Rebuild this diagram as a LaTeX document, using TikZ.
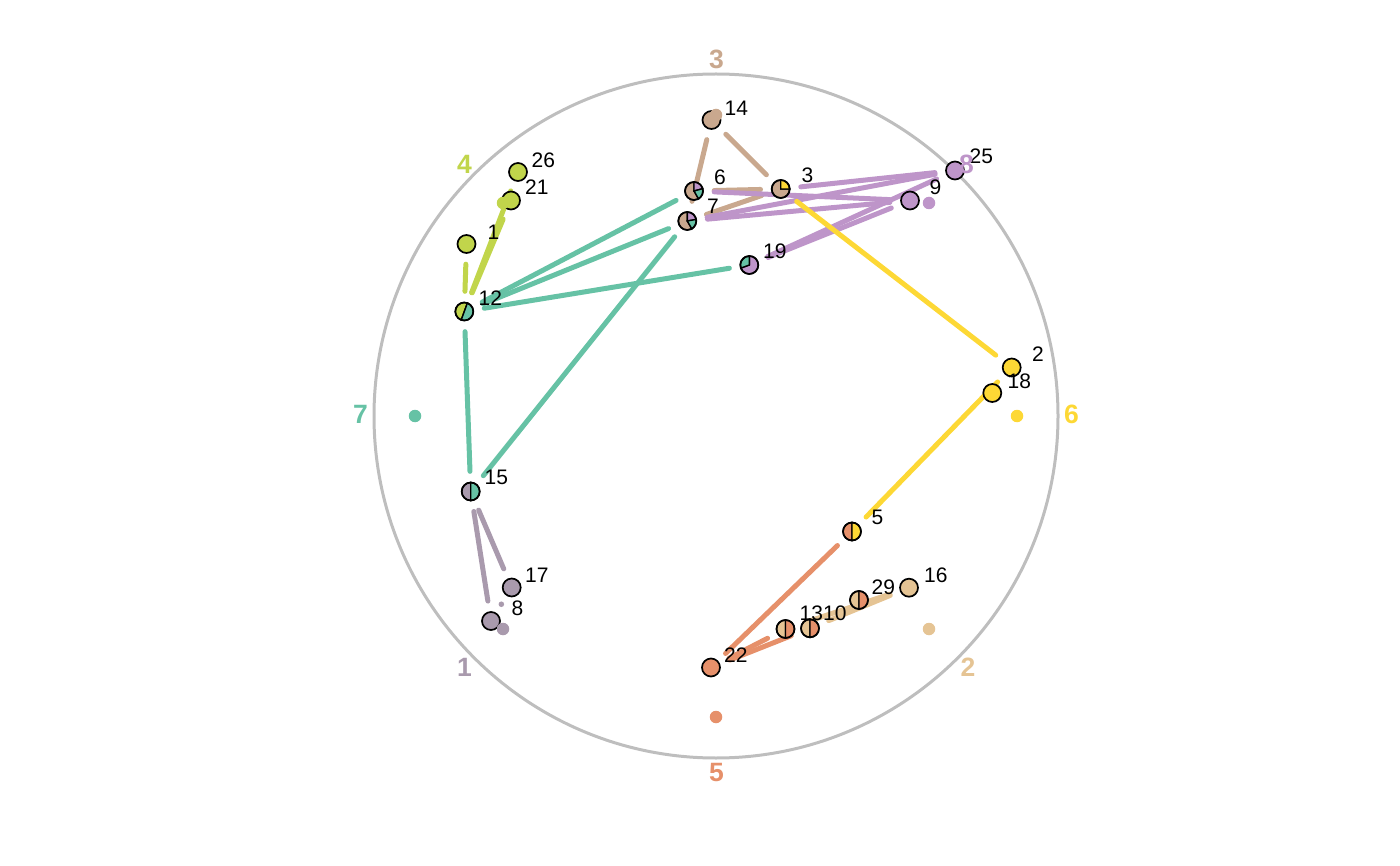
\documentclass[tikz,border=0pt]{standalone}
\usepackage{fontspec}
\setmainfont{Liberation Sans}
\usetikzlibrary{calc}
\definecolor{cTeal}{HTML}{66C2A5}
\definecolor{cOrange}{HTML}{E6906A}
\definecolor{cTan}{HTML}{E5C494}
\definecolor{cYellow}{HTML}{FDD835}
\definecolor{cLime}{HTML}{C1D54B}
\definecolor{cPurple}{HTML}{BE95C9}
\definecolor{cGp}{HTML}{A99AAD}
\definecolor{cBrown}{HTML}{C9A88E}
\definecolor{cRing}{HTML}{BEBEBE}
\newcommand\pieslice[4]{\filldraw[fill=#4,draw=black,line width=1.4pt] (#1.center) -- ++(#2:9pt) arc[start angle=#2,end angle=#3,radius=9pt] -- cycle;}
\newcommand\ring[1]{\draw[line width=1.7pt] (#1.center) circle[radius=9pt];}
\newcommand\solid[2]{\filldraw[fill=#2,draw=black,line width=1.7pt] (#1.center) circle[radius=9pt];}
\begin{document}
\begin{tikzpicture}[x=1pt,y=-1pt,
  v/.style={circle,minimum size=40pt,inner sep=0pt,draw=none},
  edge/.style={line width=5pt,line cap=round},
  nlab/.style={anchor=base west,font=\fontsize{21}{21}\selectfont,inner sep=0pt},
  glab/.style={font=\fontsize{26.5}{26.5}\selectfont\bfseries,inner sep=0pt},
  gdot/.style={circle,inner sep=0pt,minimum size=12.5pt,draw=none}]
\useasboundingbox (0,0) rectangle (1400,866);
\node[draw=cRing,line width=3pt,circle,minimum size=684pt,inner sep=0pt] (ringc) at (716,416) {};
% nodes (invisible anchors)
\node[v] (n26) at (518,172) {};
\node[v] (n21) at (511,200.5) {};
\node[v] (n1) at (466.5,244) {};
\node[v] (n12) at (464.3,311.5) {};
\node[v] (n14) at (711.5,120) {};
\node[v] (n6) at (694,191) {};
\node[v] (n7) at (687.3,221) {};
\node[v] (n3) at (780.7,189) {};
\node[v] (n9) at (910,200.5) {};
\node[v] (n25) at (955,170.5) {};
\node[v] (n19) at (749.3,265) {};
\node[v] (n15) at (470.7,491.5) {};
\node[v] (n17) at (511.7,587.5) {};
\node[v] (n8) at (491,621) {};
\node[v] (n5) at (852,531.5) {};
\node[v] (n22) at (711,667.5) {};
\node[v] (n13) at (785.5,629) {};
\node[v] (n10) at (810,628.3) {};
\node[v] (n29) at (859,600) {};
\node[v] (n16) at (909,587.7) {};
\node[v] (n2) at (1011.7,367.5) {};
\node[v] (n18) at (992.3,393) {};
% edges
\draw[edge,cTeal] (n12) -- (n6);
\draw[edge,cTeal] (n12) -- (n7);
\draw[edge,cTeal] (n12) -- (n19);
\draw[edge,cTeal] (n12) -- (n15);
\draw[edge,cTeal] (n15) -- (n7);
\draw[edge,cLime] (n1) -- (n12);
\draw[edge,cLime] (n12) -- (n21);
\draw[edge,cLime] (n12) -- (n26);
\draw[edge,cGp] (n15) -- (n17);
\draw[edge,cGp] (n15) -- (n8);
\draw[edge,cBrown] (n14) -- (n7);
\draw[edge,cBrown] (n14) -- (n3);
\draw[edge,cBrown] (n6) -- (n3);
\draw[edge,cBrown] (n7) -- (n3);
\draw[edge,cPurple] (n6) -- (n9);
\draw[edge,cPurple] (n7) -- (n25);
\draw[edge,cPurple] (n7) -- (n9);
\draw[edge,cPurple] (n3) -- (n25);
\draw[edge,cPurple] (n19) -- (n25);
\draw[edge,cPurple] (n19) -- (n9);
\draw[edge,cYellow] (n3) -- (n2);
\draw[edge,cYellow] (n5) -- (n2);
\draw[edge,cOrange] (n22) -- (n5);
\draw[edge,cOrange] (n22) -- (n13);
\draw[edge,cOrange] (n22) -- (n10);
\draw[edge,cTan] (n10) -- (n16);
\draw[edge,cTan] (n13) -- (n16);
\fill[cGp] ($(n17.center)!0.5!(n8.center)$) circle[radius=2.8pt];
% node glyphs
\solid{n26}{cLime}
\solid{n21}{cLime}
\solid{n1}{cLime}
\pieslice{n12}{70}{250}{cLime}\pieslice{n12}{250}{430}{cTeal}\ring{n12}
\solid{n14}{cBrown}
\pieslice{n6}{90}{300}{cBrown}\pieslice{n6}{15}{90}{cPurple}\pieslice{n6}{-60}{15}{cTeal}\ring{n6}
\pieslice{n7}{90}{300}{cBrown}\pieslice{n7}{10}{90}{cPurple}\pieslice{n7}{-60}{10}{cTeal}\ring{n7}
\pieslice{n3}{90}{360}{cBrown}\pieslice{n3}{0}{90}{cYellow}\ring{n3}
\solid{n9}{cPurple}
\solid{n25}{cPurple}
\pieslice{n19}{200}{450}{cPurple}\pieslice{n19}{90}{200}{cTeal}\ring{n19}
\pieslice{n15}{90}{270}{cGp}\pieslice{n15}{-90}{90}{cTeal}\ring{n15}
\solid{n17}{cGp}
\solid{n8}{cGp}
\pieslice{n5}{90}{270}{cOrange}\pieslice{n5}{-90}{90}{cYellow}\ring{n5}
\solid{n22}{cOrange}
\pieslice{n13}{90}{270}{cTan}\pieslice{n13}{-90}{90}{cOrange}\ring{n13}
\pieslice{n10}{90}{270}{cTan}\pieslice{n10}{-90}{90}{cOrange}\ring{n10}
\pieslice{n29}{90}{270}{cTan}\pieslice{n29}{-90}{90}{cOrange}\ring{n29}
\solid{n16}{cTan}
\solid{n2}{cYellow}
\solid{n18}{cYellow}
% node labels
\node[nlab] (l26) at (531.5,167.3) {26};
\node[nlab] (l21) at (525,195) {21};
\node[nlab] (l1) at (487.5,239.3) {1};
\node[nlab] (l12) at (478.5,305.7) {12};
\node[nlab] (l14) at (724.5,115.7) {14};
\node[nlab] (l6) at (714,184.3) {6};
\node[nlab] (l7) at (707,213.3) {7};
\node[nlab] (l3) at (801.5,182.3) {3};
\node[nlab] (l9) at (929.5,195) {9};
\node[nlab] (l25) at (969.5,163.5) {25};
\node[nlab] (l19) at (763,258.3) {19};
\node[nlab] (l15) at (484.5,484) {15};
\node[nlab] (l17) at (525,582.3) {17};
\node[nlab] (l8) at (511.5,615) {8};
\node[nlab] (l5) at (871.5,524) {5};
\node[nlab] (l22) at (724,662.3) {22};
\node[nlab] (l13) at (799.5,620.7) {13};
\node[nlab] (l10) at (823,620.5) {10};
\node[nlab] (l29) at (871.5,594) {29};
\node[nlab] (l16) at (924,582.7) {16};
\node[nlab] (l2) at (1032,361.7) {2};
\node[nlab] (l18) at (1007.5,388.3) {18};
% group centroid dots
\node[gdot,fill=cBrown] (g3) at (716,115) {};
\node[gdot,fill=cLime] (g4) at (503,203) {};
\node[gdot,fill=cTeal] (g7) at (415,416) {};
\node[gdot,fill=cGp] (g1) at (503,629) {};
\node[gdot,fill=cOrange] (g5) at (716,717) {};
\node[gdot,fill=cTan] (g2) at (929,629) {};
\node[gdot,fill=cYellow] (g6) at (1017,416) {};
\node[gdot,fill=cPurple] (g8) at (929,203) {};
% group labels
\node[glab,text=cBrown] (t3) at (716.5,59) {3};
\node[glab,text=cLime] (t4) at (464.5,164.5) {4};
\node[glab,text=cTeal] (t7) at (360.5,414) {7};
\node[glab,text=cGp] (t1) at (464.5,667.5) {1};
\node[glab,text=cOrange] (t5) at (716.5,772.5) {5};
\node[glab,text=cTan] (t2) at (968,667.5) {2};
\node[glab,text=cYellow] (t6) at (1071.5,414.5) {6};
\node[glab,text=cPurple] (t8) at (966.5,164) {8};
\end{tikzpicture}
\end{document}
